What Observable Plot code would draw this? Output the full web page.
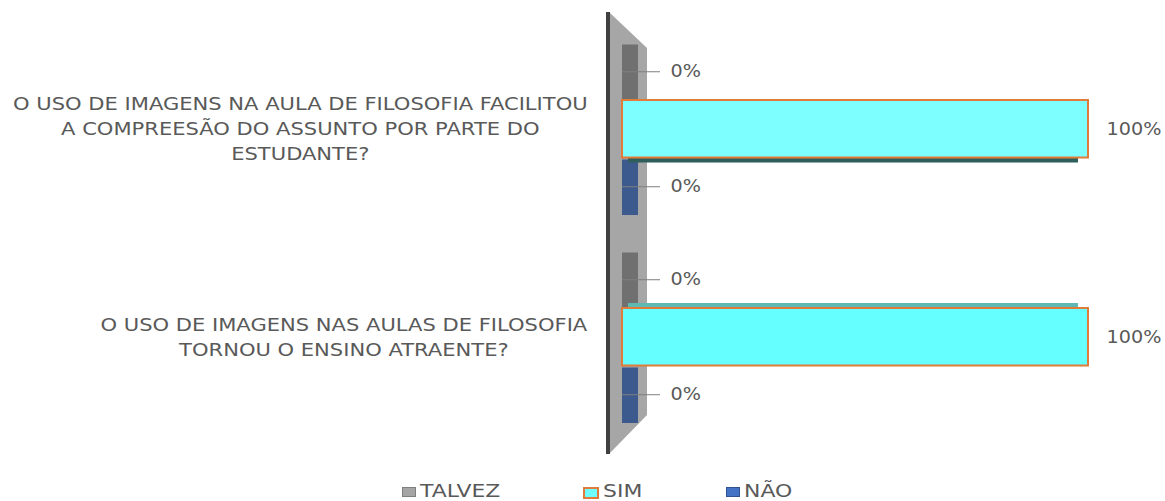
<!DOCTYPE html>
<html><head><meta charset="utf-8">
<script src="https://cdn.jsdelivr.net/npm/d3@7"></script>
<script src="https://cdn.jsdelivr.net/npm/@observablehq/plot@0.6"></script>
<style>
body{margin:0;background:#fff;font-family:"DejaVu Sans",sans-serif;overflow:hidden;}
#legend{position:relative;width:1165px;height:23px;}
.sw{position:absolute;top:9px;width:12px;height:8px;border:1px solid;}
.lt{position:absolute;top:4px;font-size:17px;line-height:19px;color:#595959;transform-origin:0 50%;white-space:nowrap;}
</style></head><body><div id="chart"></div><div id="legend"></div>
<script>
// ---- data ----
const categories = [
  "O USO DE IMAGENS NA AULA DE FILOSOFIA FACILITOU\nA COMPREESÃO DO ASSUNTO POR PARTE DO\nESTUDANTE?",
  "O USO DE IMAGENS NAS AULAS DE FILOSOFIA\nTORNOU O ENSINO ATRAENTE?"
];
const series = ["TALVEZ", "SIM", "NÃO"];
const talvez = [0, 0];
const sim = [1, 1];
const nao = [0, 0];

// ---- styling / layout ----
const TEXT = "#595959";
const FS = 17;
const S_VAL = 1.13, S_CAT = 1.24, S_LEG = 1.29;   // horizontal text stretch
const GROUP = 3.617;    // category step in bar rows
const W = 1165, H = 478, ML = 622, MR = 77, MT = 42.5, MB = 55;
const simFill = ["#7dffff", "#66ffff"];
const depthFill = {TALVEZ: "#707070", SIM: "#3cb8b8", "NÃO": "#3d5a8f"};

const valuesBySeries = [talvez, sim, nao];
const rows = categories.flatMap((c, i) => series.map((s, j) => ({
  category: c, ci: i, series: s, value: valuesBySeries[j][i],
  u1: i * GROUP + j, u2: i * GROUP + j + 1
})));
const zeroRows = rows.filter(d => d.value === 0);
const barRows = rows.filter(d => d.value > 0);
const catRows = categories.map((c, i) => ({text: c, u: i * GROUP + 1.5}));
const fmt = d3.format(".0%");

// wall decoration (pixel geometry converted into scale space)
const rowPx = (H - MB - MT) / (GROUP + 3);
const px2x = p => (p - ML) / (W - ML - MR);
const py2y = p => (p - MT) / rowPx;
const wall = [[13, 610, 610], [48, 610, 647], [415, 610, 647], [453, 610, 610]]
  .map(([py, a, b]) => ({y: py2y(py), x1: px2x(a), x2: px2x(b)}));

const plot = Plot.plot({
  width: W, height: H,
  marginLeft: ML, marginRight: MR, marginTop: MT, marginBottom: MB,
  style: {fontFamily: "DejaVu Sans", fontSize: FS + "px", background: "#fff", overflow: "visible"},
  x: {domain: [0, 1], axis: null},
  y: {domain: [0, GROUP + 3], reverse: true, axis: null},
  marks: [
    Plot.areaX(wall, {y: "y", x1: "x1", x2: "x2", fill: "#a6a6a6"}),
    Plot.ruleX([0], {y1: py2y(12), y2: py2y(454), dx: -14.5, stroke: "#404040", strokeWidth: 4}),
    Plot.rect(rows, {x1: 0, x2: 0, y1: "u1", y2: "u2", insetRight: -16, insetTop: 2,
      fill: d => depthFill[d.series]}),
    Plot.rect(barRows.filter(d => d.ci === 0), {x1: 0, x2: "value", y1: "u2", y2: "u2",
      insetBottom: -5, insetLeft: 6, insetRight: 10, fill: "#2f5f5a"}),
    Plot.rect(barRows.filter(d => d.ci === 1), {x1: 0, x2: "value", y1: "u1", y2: "u1",
      insetTop: -5, insetLeft: 6, insetRight: 10, fill: "#5fb8b2"}),
    Plot.rect(barRows, {x1: 0, x2: "value", y1: "u1", y2: "u2",
      fill: d => simFill[d.ci], stroke: "#e07b39", strokeWidth: 2}),
    Plot.ruleY(zeroRows, {y: d => (d.u1 + d.u2) / 2, x1: "value", x2: "value",
      insetRight: -38, stroke: "#7f7f7f", strokeWidth: 1}),
    Plot.text(zeroRows, {x: "value", y: d => (d.u1 + d.u2) / 2, text: d => fmt(d.value),
      dx: 48, textAnchor: "start", fill: TEXT, fontSize: FS}),
    Plot.text(barRows, {x: "value", y: d => (d.u1 + d.u2) / 2, text: d => fmt(d.value),
      dx: 18, textAnchor: "start", fill: TEXT, fontSize: FS}),
    Plot.text(catRows, {x: 0, y: "u", text: "text", textAnchor: "middle", dy: -2,
      lineHeight: 25 / FS, fill: TEXT, fontSize: FS})
  ]
});
document.getElementById("chart").append(plot);

// horizontal stretch of the text to match the reference's wide lettering
function stretch(t, s, rightEdge) {
  const bb = t.getBBox();
  const m = t.getCTM();
  let d;
  if (rightEdge != null) d = (rightEdge - m.e) / m.a - s * (bb.x + bb.width);
  else d = bb.x * (1 - s);
  t.setAttribute("transform", (t.getAttribute("transform") || "") + ` translate(${d},0) scale(${s},1)`);
}
plot.querySelectorAll("text").forEach(t => {
  if (t.parentNode.closest("text")) return;
  if (/%$/.test(t.textContent)) stretch(t, S_VAL, null);
  else stretch(t, S_CAT, 588);
});

// legend
const legend = document.getElementById("legend");
const legendItems = [
  {s: "TALVEZ", sw: 402, tx: 420, fill: "#a5a5a5", stroke: "#7f7f7f"},
  {s: "SIM", sw: 583, tx: 603, fill: "#70ffff", stroke: "#e07b39"},
  {s: "NÃO", sw: 726, tx: 744, fill: "#4472c4", stroke: "#2f528f"}
];
legendItems.forEach(it => {
  const b = document.createElement("div");
  b.className = "sw"; b.style.left = it.sw + "px";
  b.style.background = it.fill; b.style.borderColor = it.stroke;
  if (it.s === "SIM") b.style.borderWidth = "2px";
  legend.append(b);
  const t = document.createElement("div");
  t.className = "lt"; t.style.left = it.tx + "px"; t.textContent = it.s;
  t.style.transform = `scaleX(${S_LEG})`;
  legend.append(t);
});
</script></body></html>
